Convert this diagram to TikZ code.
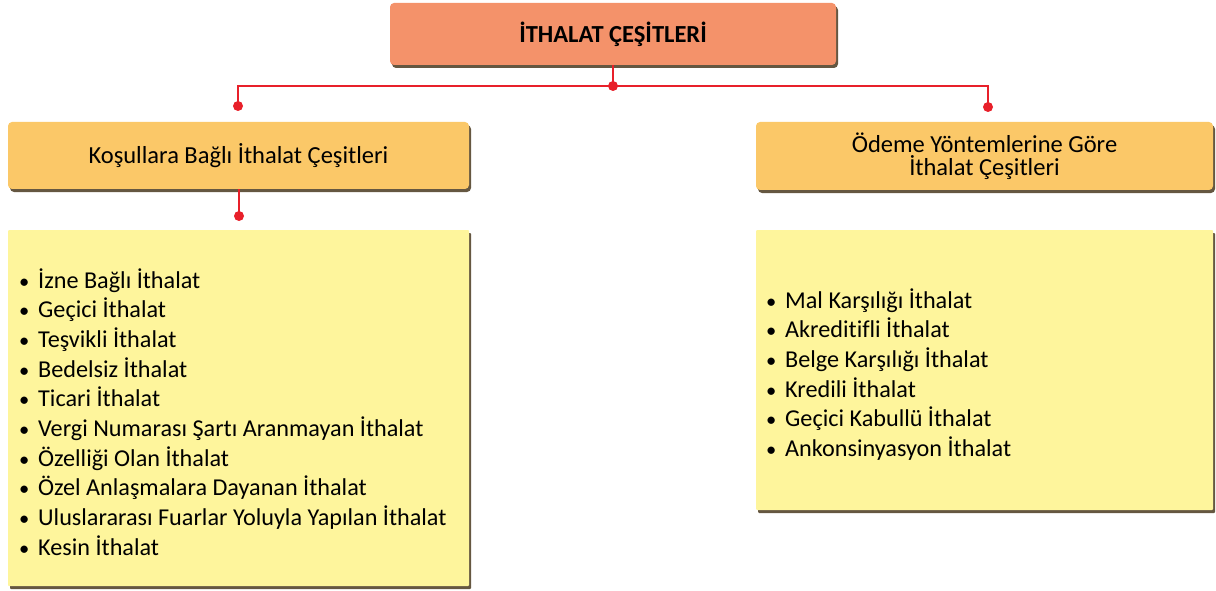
\documentclass[tikz,border=0pt]{standalone}
\usepackage{fontspec}
\setmainfont{Carlito}[Ligatures=NoCommon]
\usetikzlibrary{shadows}
\definecolor{topfill}{HTML}{F4926A}
\definecolor{headfill}{HTML}{FBC868}
\definecolor{listfill}{HTML}{FEF59C}
\definecolor{shadowc}{HTML}{4A3A20}
\definecolor{linered}{HTML}{E8202A}
\tikzset{
  boxbase/.style={rounded corners=4pt, inner sep=0pt, text=black,
    drop shadow={shadow xshift=2pt, shadow yshift=-3pt, fill=shadowc, opacity=0.85}},
  topbox/.style={boxbase, fill=topfill, minimum width=446pt, minimum height=62pt,
    font=\fontsize{24.5}{28}\selectfont\bfseries},
  headbox/.style={boxbase, fill=headfill, minimum height=67pt, align=center,
    font=\fontsize{24.5}{23}\selectfont},
  listbox/.style={boxbase, rounded corners=1pt, fill=listfill},
  item/.style={anchor=base west, inner sep=0pt,
    font=\fontsize{24.2}{29.7}\selectfont},
  redline/.style={draw=linered, line width=2.2pt},
  reddot/.style={fill=linered}
}
\newcommand{\itm}[1]{\makebox[19pt][l]{\raisebox{0pt}{\scalebox{0.85}{•}}}#1}
\begin{document}
\begin{tikzpicture}[x=1pt,y=-1pt]
\useasboundingbox (0,0) rectangle (1216,591);
% boxes
\node[topbox] (top) at (613,34) {İTHALAT ÇEŞİTLERİ};
\node[headbox, minimum width=461pt] (left) at (238.5,155.5) {Koşullara Bağlı İthalat Çeşitleri};
\node[headbox, minimum width=457pt, minimum height=68pt] (right) at (984.5,156) {Ödeme Yöntemlerine Göre\\İthalat Çeşitleri};
\node[listbox, minimum width=461pt, minimum height=356pt] (llist) at (238.5,408) {};
\node[listbox, minimum width=457pt, minimum height=280pt] (rlist) at (984.5,370) {};
% left list
\foreach \t [count=\i] in {İzne Bağlı İthalat, Geçici İthalat, Teşvikli İthalat,
  Bedelsiz İthalat, Ticari İthalat, Vergi Numarası Şartı Aranmayan İthalat,
  Özelliği Olan İthalat, Özel Anlaşmalara Dayanan İthalat,
  Uluslararası Fuarlar Yoluyla Yapılan İthalat, Kesin İthalat}
  \node[item] (l\i) at (19,{288+(\i-1)*29.7}) {\itm{\t}};
% right list
\foreach \t [count=\i] in {Mal Karşılığı İthalat, Akreditifli İthalat,
  Belge Karşılığı İthalat, Kredili İthalat, Geçici Kabullü İthalat,
  Ankonsinyasyon İthalat}
  \node[item] (r\i) at (766,{308+(\i-1)*29.7}) {\itm{\t}};
% connectors
\coordinate (jc) at (613,86);
\coordinate (jl) at (238,86);
\coordinate (jr) at (988,86);
\coordinate (dl) at (238,106);
\coordinate (dr) at (988,107);
\coordinate (dll) at (239,216);
\draw[redline] (top.south) -- (jc);
\draw[redline] (dl) -- (jl) -- (jr) -- (dr);
\draw[redline] (left.south -| dll) -- (dll);
\foreach \p in {jc,dl,dr,dll} \fill[reddot] (\p) circle (5pt);
\end{tikzpicture}
\end{document}
